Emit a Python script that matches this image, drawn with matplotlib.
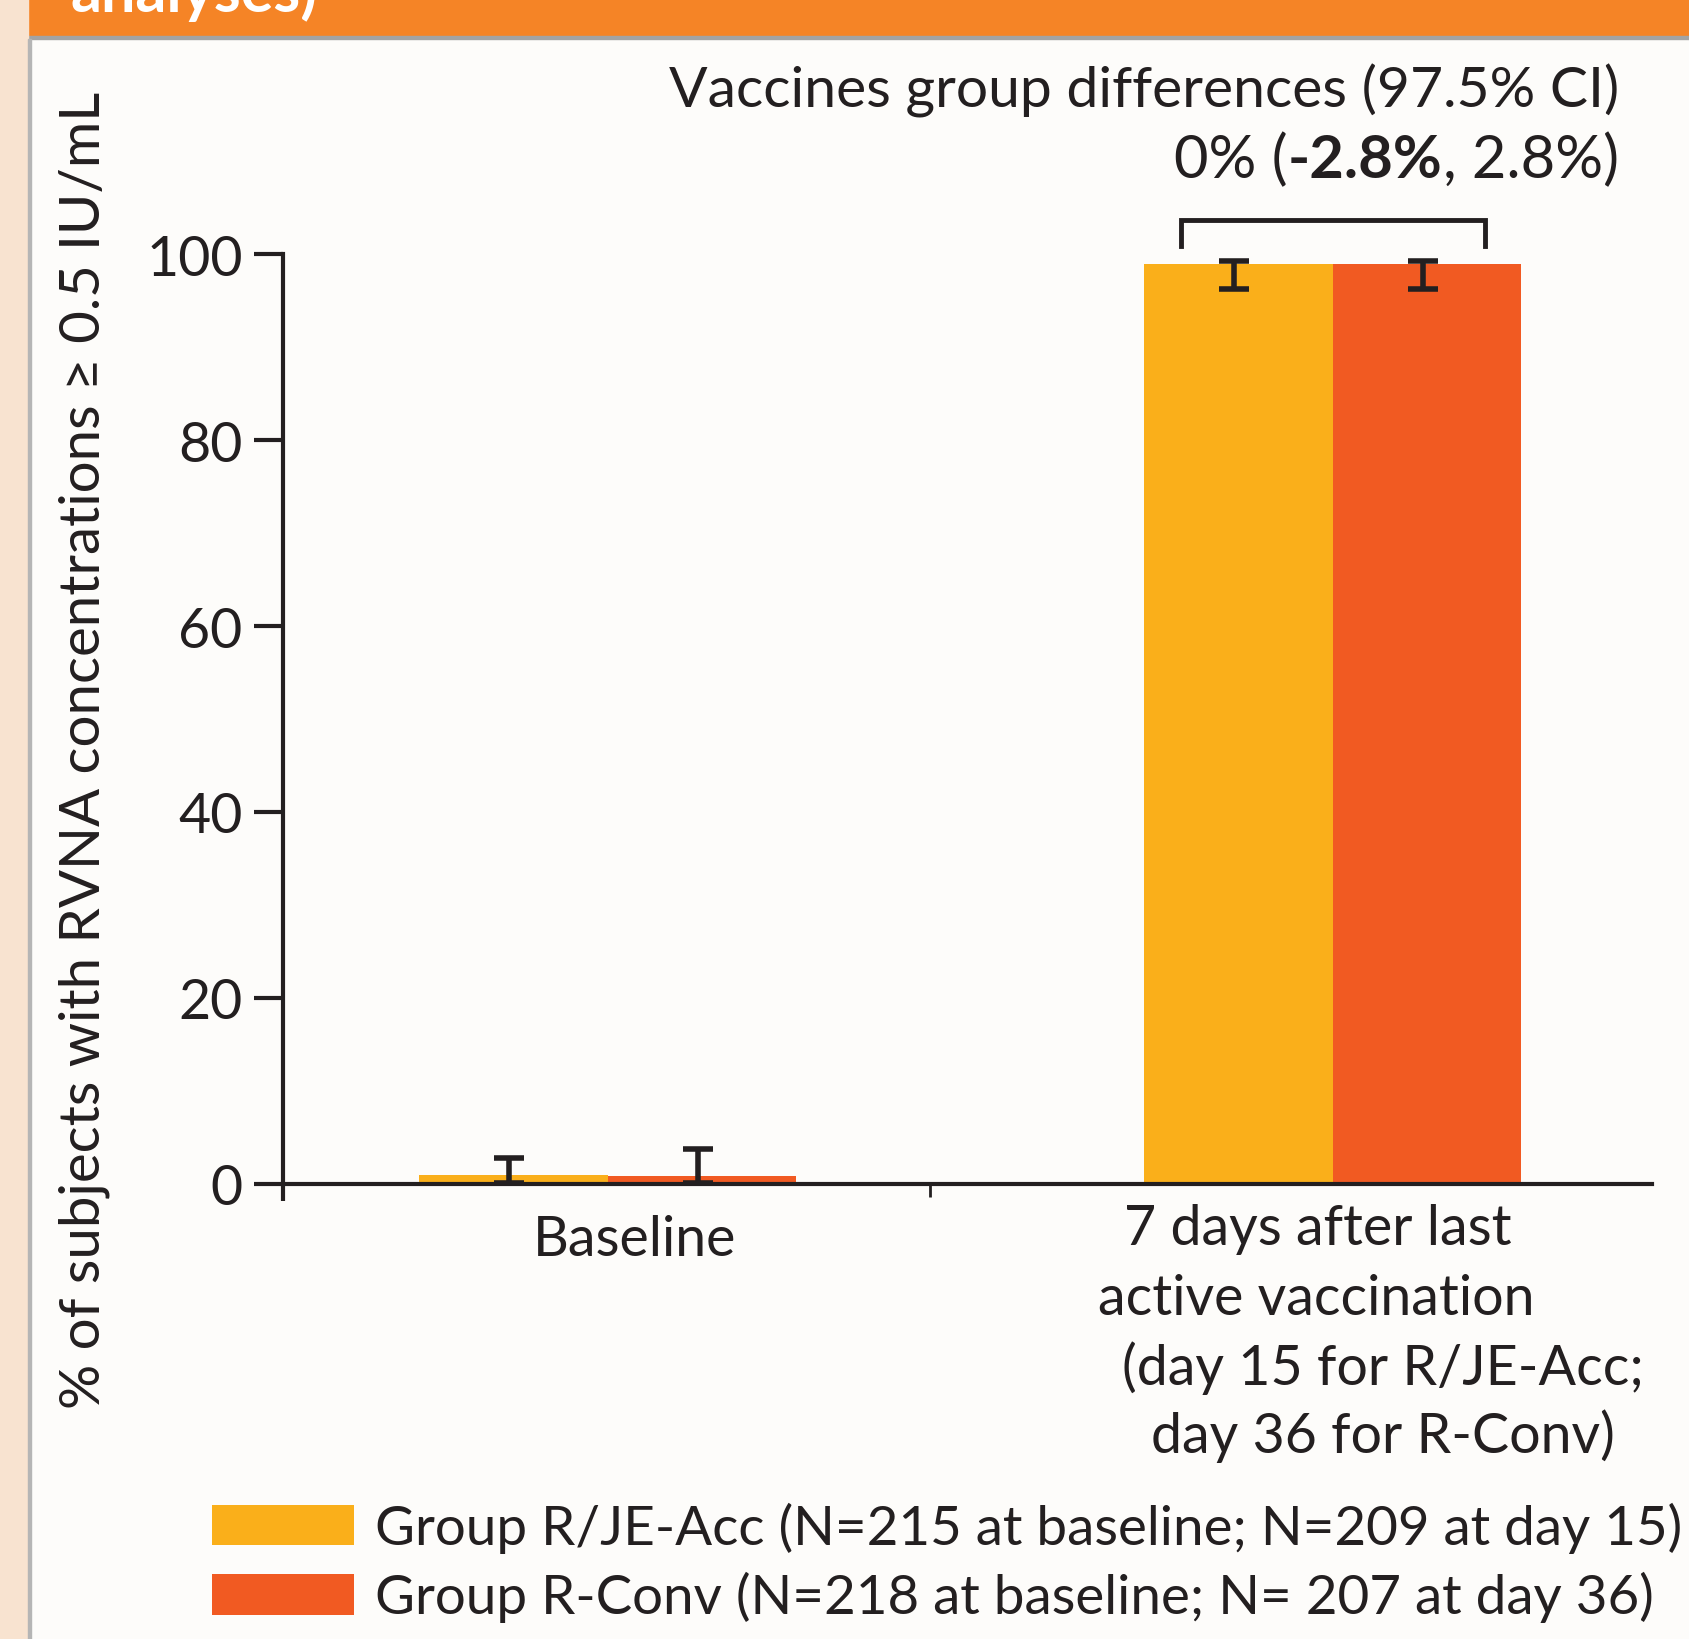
import numpy as np
import matplotlib.pyplot as plt
from matplotlib.patches import Rectangle

plt.rcParams['font.family'] = ['Lato', 'DejaVu Sans']

# data
timepoints = ['Baseline', '7 days after last active vaccination']
acc_pct = [1.0, 98.9]
acc_lo = [0.1, 96.2]
acc_hi = [2.8, 99.3]
conv_pct = [0.9, 98.9]
conv_lo = [0.1, 96.2]
conv_hi = [3.8, 99.3]
labels = ['Group R/JE-Acc (N=215 at baseline; N=209 at day 15)',
          'Group R-Conv (N=218 at baseline; N= 207 at day 36)']
yticks = [0, 20, 40, 60, 80, 100]
diff_ci = ['0% (', '-2.8%', ', 2.8%)']

c_acc = '#FAAF1A'
c_conv = '#F15A22'
ink = '#231F20'
fs = 40

fig = plt.figure(figsize=(16.9, 16.4), dpi=100, facecolor='#FDFCFA')

# page decorations: orange header, grey rule, beige margin
fig.patches.append(Rectangle((0, 1 - 37 / 1640), 1, 37 / 1640, transform=fig.transFigure,
                             color='#F58426', zorder=0))
fig.patches.append(Rectangle((0, 1 - 40 / 1640), 1, 3 / 1640, transform=fig.transFigure,
                             color='#A3A3A3', zorder=0))
fig.patches.append(Rectangle((0, 0), 28 / 1690, 1, transform=fig.transFigure,
                             color='#F8E3D0', zorder=0))
fig.patches.append(Rectangle((28 / 1690, 0), 3 / 1690, 1 - 40 / 1640, transform=fig.transFigure,
                             color='#B5B5B5', zorder=0))
fig.text(70 / 1690, 1 - 12 / 1640, 'analyses)', color='white', fontsize=44,
         fontweight='bold', ha='left', va='baseline')

ax = fig.add_axes([283 / 1690, 455 / 1640, 1369 / 1690, 930 / 1640])
ax.set_facecolor('none')

x = np.arange(len(timepoints))
w = 0.26
ax.bar(x - w / 2, acc_pct, w, color=c_acc, label=labels[0], zorder=2)
ax.bar(x + w / 2, conv_pct, w, color=c_conv, label=labels[1], zorder=2)

err_kw = dict(fmt='none', ecolor=ink, elinewidth=4, capsize=11, capthick=4, zorder=3)
dx = -0.006
ax.errorbar(x - w / 2 + dx, acc_pct,
            yerr=[np.subtract(acc_pct, acc_lo), np.subtract(acc_hi, acc_pct)], **err_kw)
ax.errorbar(x + w / 2 + dx, conv_pct,
            yerr=[np.subtract(conv_pct, conv_lo), np.subtract(conv_hi, conv_pct)], **err_kw)

ax.set_xlim(-0.448, 1.44)
ax.set_ylim(0, 100)
ax.set_yticks(yticks)
ax.tick_params(axis='y', labelsize=fs, length=21, width=3, color=ink, pad=8,
               labelcolor=ink)
ax.set_xticks([])
ax.set_xticks([-0.448, 0.444], minor=True)
ax.tick_params(axis='x', which='minor', length=12, width=3, color=ink)
mid = ax.xaxis.get_minor_ticks()[1].tick1line
mid.set_color('#A8A8A8')
mid.set_markersize(9)
mid.set_markeredgewidth(2)
for s in ['top', 'right']:
    ax.spines[s].set_visible(False)
for s in ['left', 'bottom']:
    ax.spines[s].set_linewidth(3)
    ax.spines[s].set_color(ink)

# category labels
ax.annotate('Baseline', xy=(0.037, -0.076), xycoords=('data', 'axes fraction'),
            ha='center', va='baseline', fontsize=fs, color=ink)
day_lines = ['7 days after last', 'active vaccination',
             '(day 15 for R/JE-Acc;', 'day 36 for R-Conv)']
day_x = [0.979, 0.977, 1.069, 1.069]
day_y = [-0.065, -0.140, -0.215, -0.288]
for t, tx, ty in zip(day_lines, day_x, day_y):
    ax.annotate(t, xy=(tx, ty), xycoords=('data', 'axes fraction'),
                ha='center', va='baseline', fontsize=fs, color=ink)

# group difference bracket
bx0, bx1 = x[1] - 0.21, x[1] + 0.21
ax.plot([bx0, bx0, bx1, bx1], [100.9, 103.7, 103.7, 100.9], color=ink, lw=3.5,
        clip_on=False, solid_joinstyle='miter')
fig.text(1619 / 1690, 1 - 108 / 1640, 'Vaccines group differences (97.5% CI)',
         ha='right', va='baseline', fontsize=41, color=ink)
t3 = fig.text(1619 / 1690, 1 - 178 / 1640, diff_ci[2],
              ha='right', va='baseline', fontsize=43, color=ink)
t2 = ax.annotate(diff_ci[1], xy=(0, 0), xycoords=t3, ha='right', va='bottom',
                 fontsize=43, color=ink, fontweight='bold')
ax.annotate(diff_ci[0], xy=(0, 0), xycoords=t2, ha='right', va='bottom',
            fontsize=43, color=ink)

fig.text(84 / 1690, 1 - 750 / 1640, '% of subjects with RVNA concentrations ≥ 0.5 IU/mL',
         rotation=90, ha='center', va='center', fontsize=40.6, color=ink)

fig.legend(loc='upper left', bbox_to_anchor=(212 / 1690, 1 - 1503 / 1640), frameon=False,
           fontsize=39.4, handlelength=2.6, handleheight=0.76, handletextpad=0.37,
           labelspacing=0.33, borderpad=0, borderaxespad=0, labelcolor=ink)

fig.savefig('out.png', dpi=100, facecolor=fig.get_facecolor())
